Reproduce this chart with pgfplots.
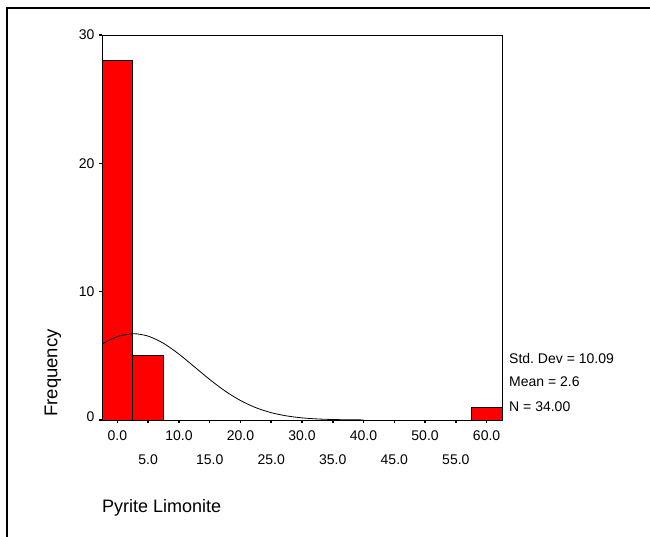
\documentclass[border=0pt]{standalone}
\usepackage{pgfplots}
\pgfplotsset{compat=1.18}
\usepackage{fontspec}
\setmainfont{Liberation Sans}
\frenchspacing
\begin{document}
\begin{tikzpicture}
\useasboundingbox (0,0) rectangle (650pt,-536pt);
\draw[line width=1.6pt] (7pt,-540pt) -- (7pt,-8pt) -- (655pt,-8pt);
\begin{axis}[
  at={(102pt,-420pt)}, anchor=south west,
  scale only axis, width=400pt, height=385pt,
  xmin=-2.5, xmax=62.5, ymin=0, ymax=30,
  axis line style={line width=0.9pt},
  xtick={0,10,20,30,40,50,60},
  extra x ticks={5,15,25,35,45,55},
  extra x tick style={tick label style={yshift=-24pt}},
  ytick={0,10,20,30},
  yticklabels={\raisebox{6pt}{0},10,20,30},
  tick align=outside,
  xtick pos=bottom, ytick pos=left,
  major tick length=3pt,
  every tick/.style={line width=1.6pt, black},
  x tick label style={/pgf/number format/fixed, /pgf/number format/fixed zerofill, /pgf/number format/precision=1, yshift=-4pt},
  /pgf/number format/assume math mode=true,
  tick label style={font=\fontsize{14}{16}\selectfont},
  yticklabel style={xshift=-1pt},
  clip=false,
]
\addplot[ybar interval, fill=red, draw=black, line width=0.9pt] coordinates {(-2.5,28) (2.5,5) (7.5,5)};
\addplot[ybar interval, fill=red, draw=black, line width=0.9pt] coordinates {(57.5,1) (62.5,1)};
\addplot[black, line width=0.8pt, smooth, mark=none] coordinates {
(-2.5,5.916) (0,6.502) (2.6,6.722) (5,6.535) (7.5,5.975) (10,5.137) (12.5,4.154)
(15,3.159) (17.5,2.259) (20,1.520) (22.5,0.961) (25,0.572) (27.5,0.320)
(30,0.168) (32.5,0.083) (35,0.039) (37.5,0.017) (40,0.007)};
\end{axis}
\node[rotate=90, font=\fontsize{18.5}{20}\selectfont] at (53pt,-373pt) {Frequency};
\node[anchor=base west, inner sep=0pt, font=\fontsize{18}{20}\selectfont] at (102pt,-512.7pt) {Pyrite Limonite};
\node[anchor=west, inner sep=0pt, font=\fontsize{14}{16}\selectfont] at (509pt,-358pt) {Std. Dev = 10.09};
\node[anchor=west, inner sep=0pt, font=\fontsize{14}{16}\selectfont] at (509pt,-382pt) {Mean = 2.6};
\node[anchor=west, inner sep=0pt, font=\fontsize{14}{16}\selectfont] at (509pt,-407pt) {N = 34.00};
\end{tikzpicture}
\end{document}
